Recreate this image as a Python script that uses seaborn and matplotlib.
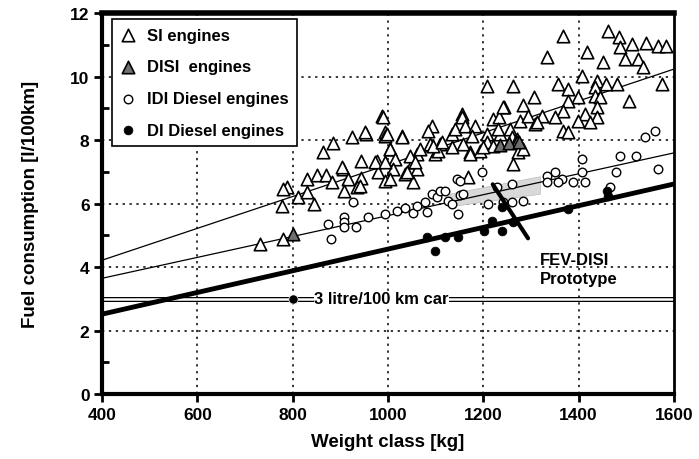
import pandas as pd
import seaborn as sns
import matplotlib.pyplot as plt
from matplotlib.patches import Polygon

# SI engines (open triangles)
si_weight = [731, 780, 778, 788, 780, 811, 830, 830, 845, 851, 870, 882, 864, 885, 906, 916,
             908, 924, 943, 943, 935, 941, 954, 977, 979, 987, 993, 993, 952, 994, 1029, 904,
             973, 1004, 1208, 1262, 1306, 1283, 1243, 1155, 1155, 990, 1092, 1084, 998, 1029,
             1134, 1141, 1162, 1183, 1208, 1220, 1233, 1256, 1277, 1294, 1308, 1235, 1260, 1271,
             1004, 1015, 1088, 1109, 1099, 1105, 1134, 1157, 1172, 1193, 1208, 1220, 1271, 1273,
             1283, 1262, 1061, 1053, 1061, 1011, 1036, 1053, 1004, 994, 1168, 1199, 1046, 1057,
             1040, 1067, 1094, 1113, 1176, 1172, 1231, 1241, 1367, 1462, 1485, 1487, 1512, 1541,
             1567, 1583, 1334, 1418, 1451, 1497, 1524, 1535, 1407, 1357, 1378, 1439, 1457, 1480,
             1434, 1575, 1399, 1378, 1434, 1445, 1506, 1439, 1367, 1413, 1439, 1350, 1323, 1399,
             1424, 1367, 1378, 1313]
si_fuel = [4.72, 4.88, 5.92, 6.52, 6.45, 6.20, 6.77, 6.36, 5.98, 6.90, 6.90, 6.68, 7.62, 7.90, 7.10, 6.77,
           6.40, 8.10, 7.34, 6.80, 6.52, 6.55, 8.20, 7.34, 7.00, 8.76, 8.25, 6.70, 8.25, 8.13, 8.13, 7.15,
           7.30, 7.72, 9.70, 9.70, 9.35, 9.10, 9.04, 8.82, 8.72, 8.72, 8.44, 8.28, 8.19, 8.10,
           8.19, 8.35, 8.44, 8.44, 8.19, 8.66, 8.72, 8.35, 8.60, 8.76, 8.50, 8.19, 8.10, 8.03,
           7.72, 7.40, 7.87, 7.87, 7.56, 7.65, 7.78, 7.87, 7.62, 7.65, 7.94, 7.81, 7.94, 7.62,
           7.72, 7.24, 7.56, 7.30, 7.09, 7.09, 6.93, 6.68, 6.77, 7.30, 6.83, 7.78, 7.50, 7.30,
           7.00, 7.72, 7.81, 7.94, 8.13, 7.56, 8.35, 9.04, 11.28, 11.43, 11.24, 10.93, 11.02, 11.06,
           10.96, 10.96, 10.61, 10.77, 10.46, 10.55, 10.55, 10.30, 10.02, 9.76, 9.60, 9.86, 9.76, 9.76,
           9.67, 9.76, 9.35, 9.23, 9.39, 9.35, 9.23, 9.04, 8.91, 8.82, 8.72, 8.72, 8.76, 8.60,
           8.57, 8.28, 8.25, 8.57]

# DISI engines (grey triangles)
disi_weight = [800, 1235, 1255, 1275]
disi_fuel = [5.05, 7.85, 7.90, 7.95]

# IDI Diesel engines (open circles)
idi_weight = [926, 874, 908, 908, 908, 933, 958, 880, 993, 1019, 1036, 1053, 1061, 1078, 1082,
              1092, 1103, 1109, 1120, 1126, 1134, 1147, 1151, 1145, 1157, 1197, 1210, 1260, 1241,
              1260, 1283, 1229, 1151, 1407, 1487, 1520, 1539, 1560, 1478, 1567, 1407, 1388, 1413,
              1334, 1350, 1365, 1334, 1357, 1466]
idi_fuel = [6.05, 5.35, 5.57, 5.42, 5.26, 5.26, 5.57, 4.88, 5.67, 5.76, 5.86, 5.70, 5.92, 6.05, 5.73,
            6.30, 6.20, 6.39, 6.39, 6.08, 5.98, 5.67, 6.27, 6.77, 6.30, 6.99, 5.98, 6.61, 6.05,
            6.05, 6.08, 6.52, 6.71, 7.40, 7.50, 7.50, 8.10, 8.28, 7.00, 7.09, 7.00, 6.68, 6.68,
            6.87, 7.00, 6.77, 6.68, 6.68, 6.52]

# DI Diesel engines (black dots)
di_weight = [1082, 1120, 1147, 1099, 1201, 1218, 1239, 1239, 1262, 1378, 1459, 1462]
di_fuel = [4.94, 4.94, 4.94, 4.50, 5.13, 5.45, 5.89, 5.13, 5.42, 5.83, 6.39, 6.24]

# trend lines (end points at 400 and 1600 kg)
trend_weight = [400, 1600]
si_trend = [4.22, 10.24]
idi_trend = [3.65, 7.60]
di_trend = [2.52, 6.62]

# 3 litre car
car_weight = [800]
car_fuel = [3.0]

# FEV-DISI prototype marker line
fev_weight = [1220, 1294]
fev_fuel = [6.61, 4.91]

# shaded band
band_weight = [1130, 1320, 1320, 1130]
band_fuel = [5.9, 6.3, 6.85, 6.3]

sns.set_theme(style="white")
plt.rcParams['font.family'] = ['Liberation Sans', 'DejaVu Sans']
plt.rcParams['font.weight'] = 'bold'
for key in ['text.color', 'axes.labelcolor', 'xtick.color', 'ytick.color']:
    plt.rcParams[key] = 'black'

fig = plt.figure(figsize=(6.99, 4.6), dpi=100)
ax = fig.add_axes([0.146, 0.141, 0.818, 0.828])

# grid
for yv in [2, 4, 6, 8, 10]:
    ax.axhline(yv, color='black', lw=1.1, ls=(0, (1.5, 3)), zorder=0)
for xv in [600, 800, 1000, 1200, 1400]:
    ax.axvline(xv, color='black', lw=1.1, ls=(0, (1.5, 3)), zorder=0)

ax.add_patch(Polygon(list(zip(band_weight, band_fuel)), closed=True,
                     facecolor='#d9d9d9', edgecolor='#bbbbbb', lw=0.5, zorder=1))

# 3 litre line (double line)
ax.axhline(car_fuel[0], color='black', lw=3.6, zorder=2)
ax.axhline(car_fuel[0], color='white', lw=1.8, zorder=2)

sns.lineplot(x=trend_weight, y=si_trend, color='black', lw=0.9, ax=ax, zorder=2)
sns.lineplot(x=trend_weight, y=idi_trend, color='black', lw=0.9, ax=ax, zorder=2)
sns.lineplot(x=trend_weight, y=di_trend, color='black', lw=3.5, ax=ax, zorder=2)

sns.scatterplot(x=si_weight, y=si_fuel, marker='^', s=80, facecolor='white',
                edgecolor='black', linewidth=1.2, ax=ax, zorder=3, label='SI engines')
sns.scatterplot(x=disi_weight, y=disi_fuel, marker='^', s=80, facecolor='#707070',
                edgecolor='black', linewidth=1.2, ax=ax, zorder=3, label='DISI  engines')
sns.scatterplot(x=idi_weight, y=idi_fuel, marker='o', s=38, facecolor='white',
                edgecolor='black', linewidth=1.0, ax=ax, zorder=3, label='IDI Diesel engines')
sns.scatterplot(x=di_weight, y=di_fuel, marker='o', s=40, color='black',
                edgecolor='black', ax=ax, zorder=4, label='DI Diesel engines')

sns.scatterplot(x=car_weight, y=car_fuel, marker='o', s=45, color='black', ax=ax, zorder=4)
ax.text(845, 3.0, '3 litre/100 km car', fontsize=12, fontweight='bold', va='center', ha='left',
        bbox=dict(facecolor='white', edgecolor='none', pad=0.3), zorder=3)

sns.lineplot(x=fev_weight, y=fev_fuel, color='black', lw=3, ax=ax, zorder=5)
ax.text(1318, 3.95, 'FEV-DISI\nPrototype', fontsize=12, fontweight='bold', va='center',
        ha='left', linespacing=1.35)

ax.set_xlim(400, 1600)
ax.set_ylim(0, 12)
ax.set_xticks(range(400, 1601, 200))
ax.set_yticks(range(0, 13, 2))
ax.set_yticks(range(1, 12, 2), minor=True)
ax.tick_params(axis='both', which='major', direction='out', length=6, width=2,
               labelsize=12.5, color='black', left=True, bottom=True, pad=3)
ax.tick_params(axis='y', which='minor', direction='in', length=5, width=2, left=True)
for lab in ax.get_xticklabels() + ax.get_yticklabels():
    lab.set_fontweight('bold')

for side, w in [('left', 3), ('bottom', 3), ('top', 4), ('right', 2)]:
    ax.spines[side].set_visible(True)
    ax.spines[side].set_color('black')
    ax.spines[side].set_linewidth(w)

ax.set_xlabel('Weight class [kg]', fontsize=13.5, fontweight='bold', labelpad=8)
ax.set_ylabel('Fuel consumption [l/100km]', fontsize=13.5, fontweight='bold', labelpad=22)

leg = ax.legend(loc='upper left', bbox_to_anchor=(0.017, 0.984), borderaxespad=0,
                fancybox=False, edgecolor='black', framealpha=1, fontsize=12,
                labelspacing=1.0, handletextpad=0.6, handlelength=1.0, borderpad=0.5)
leg.get_frame().set_linewidth(1.2)
for t in leg.get_texts():
    t.set_fontweight('bold')

fig.savefig('out.png', dpi=100)
